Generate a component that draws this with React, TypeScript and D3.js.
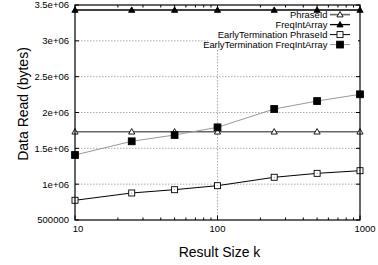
import React, { useRef, useEffect } from 'react';
import * as d3 from 'd3';

const sizes: number[] = [10, 25, 50, 100, 250, 500, 1000];
const phraseId: number[] = [1732000, 1732000, 1732000, 1732000, 1732000, 1732000, 1732000];
const freqIntArray: number[] = [3430000, 3430000, 3430000, 3430000, 3430000, 3430000, 3430000];
const earlyPhraseId: number[] = [775000, 877000, 923000, 979000, 1096000, 1151000, 1188000];
const earlyFreqIntArray: number[] = [1407000, 1598000, 1686000, 1793000, 2049000, 2160000, 2254000];
const yTicks: number[] = [500000, 1000000, 1500000, 2000000, 2500000, 3000000, 3500000];
const yTickLabels: string[] = ['500000', '1e+06', '1.5e+06', '2e+06', '2.5e+06', '3e+06', '3.5e+06'];
const xTicks: number[] = [10, 100, 1000];
const seriesNames: string[] = ['PhraseId', 'FreqIntArray', 'EarlyTermination PhraseId', 'EarlyTermination FreqIntArray'];

const FONT = '"Liberation Sans", Arial, Helvetica, sans-serif';

const App: React.FC = () => {
  const svgRef = useRef<SVGSVGElement | null>(null);

  useEffect(() => {
    if (!svgRef.current) return;
    const svg = d3.select(svgRef.current);
    svg.selectAll('*').remove();

    const width = 378;
    const height = 265;
    const margin = { top: 5, right: 18, bottom: 45, left: 75 };
    const x0 = margin.left, x1 = width - margin.right;
    const y0 = margin.top, y1 = height - margin.bottom;

    const x = d3.scaleLog().domain([10, 1000]).range([x0, x1]);
    const y = d3.scaleLinear().domain([500000, 3500000]).range([y1, y0]);

    // grid
    const grid = svg.append('g').attr('stroke', '#999').attr('stroke-width', 0.8).attr('stroke-dasharray', '1.5,1.5');
    yTicks.slice(1, -1).forEach(t => {
      grid.append('line').attr('x1', x0).attr('x2', x1).attr('y1', y(t)).attr('y2', y(t));
    });
    xTicks.slice(1, -1).forEach(t => {
      grid.append('line').attr('x1', x(t)).attr('x2', x(t)).attr('y1', y0).attr('y2', y1);
    });

    // ticks (inward, gnuplot style)
    const ticks = svg.append('g').attr('stroke', '#000').attr('stroke-width', 1);
    yTicks.forEach(t => {
      ticks.append('line').attr('x1', x0).attr('x2', x0 + 4).attr('y1', y(t)).attr('y2', y(t));
      ticks.append('line').attr('x1', x1).attr('x2', x1 - 4).attr('y1', y(t)).attr('y2', y(t));
    });
    const minor: number[] = [];
    [10, 100].forEach(d => { for (let i = 2; i <= 9; i++) minor.push(d * i); });
    minor.forEach(t => {
      ticks.append('line').attr('x1', x(t)).attr('x2', x(t)).attr('y1', y1).attr('y2', y1 - 2.5);
      ticks.append('line').attr('x1', x(t)).attr('x2', x(t)).attr('y1', y0).attr('y2', y0 + 2.5);
    });
    xTicks.forEach(t => {
      ticks.append('line').attr('x1', x(t)).attr('x2', x(t)).attr('y1', y1).attr('y2', y1 - 4.5);
      ticks.append('line').attr('x1', x(t)).attr('x2', x(t)).attr('y1', y0).attr('y2', y0 + 4.5);
    });

    // tick labels
    svg.append('g').selectAll('text').data(yTicks).enter().append('text')
      .attr('x', 69).attr('y', d => y(d) + 3.4)
      .attr('text-anchor', 'end').attr('font-family', FONT).attr('font-size', 9.5)
      .text((d, i) => yTickLabels[i]);
    const xOff = [3, 0, 5];
    svg.append('g').selectAll('text').data(xTicks).enter().append('text')
      .attr('x', (d, i) => x(d) + xOff[i]).attr('y', 232)
      .attr('text-anchor', 'middle').attr('font-family', FONT).attr('font-size', 9.5)
      .text(d => String(d));

    // axis titles
    svg.append('text').attr('x', 219.5).attr('y', 257)
      .attr('text-anchor', 'middle').attr('font-family', FONT).attr('font-size', 14)
      .text('Result Size k');
    svg.append('text').attr('transform', `translate(27.5,104) rotate(-90)`)
      .attr('text-anchor', 'middle').attr('font-family', FONT).attr('font-size', 14)
      .text('Data Read (bytes)');

    // legend background
    svg.append('rect').attr('x', 208).attr('y', 9).attr('width', 150).attr('height', 41).attr('fill', '#fff');

    const styles = [
      { data: phraseId, stroke: '#666', sw: 1.6, marker: 'tri', fill: '#fff' },
      { data: freqIntArray, stroke: '#000', sw: 1.3, marker: 'tri', fill: '#000' },
      { data: earlyPhraseId, stroke: '#000', sw: 1, marker: 'sq', fill: '#fff' },
      { data: earlyFreqIntArray, stroke: '#999', sw: 1, marker: 'sq', fill: '#000' },
    ];

    const line = d3.line<[number, number]>().x(d => d[0]).y(d => d[1]);

    const drawMarker = (g: d3.Selection<SVGGElement, unknown, null, undefined>, kind: string, cx: number, cy: number, fill: string) => {
      if (kind === 'tri') {
        const s = 3.1;
        g.append('path')
          .attr('d', `M${cx},${cy - s}L${cx + s},${cy + s * 0.75}L${cx - s},${cy + s * 0.75}Z`)
          .attr('fill', fill).attr('stroke', '#000').attr('stroke-width', 0.9);
      } else {
        const s = fill === '#000' ? 3.4 : 3;
        g.append('rect').attr('x', cx - s).attr('y', cy - s).attr('width', 2 * s).attr('height', 2 * s)
          .attr('fill', fill).attr('stroke', '#000').attr('stroke-width', 0.9);
        if (fill !== '#000') {
          g.append('circle').attr('cx', cx).attr('cy', cy).attr('r', 0.4).attr('fill', '#000');
        }
      }
    };

    styles.forEach(st => {
      const g = svg.append('g');
      const pts: [number, number][] = sizes.map((s, i) => [x(s), y(st.data[i])]);
      g.append('path').attr('d', line(pts)!).attr('fill', 'none').attr('stroke', st.stroke).attr('stroke-width', st.sw);
      pts.forEach(p => drawMarker(g, st.marker, p[0], p[1], st.fill));
    });

    // legend
    const lg = svg.append('g');
    seriesNames.forEach((name, i) => {
      const ly = 14.6 + i * 10;
      const st = styles[i];
      lg.append('text').attr('transform', `translate(327.5,${ly + 3.1}) scale(1.09,1)`)
        .attr('text-anchor', 'end')
        .attr('font-family', FONT).attr('font-size', 8.6).text(name);
      lg.append('line').attr('x1', 330).attr('x2', 350).attr('y1', ly).attr('y2', ly)
        .attr('stroke', st.stroke).attr('stroke-width', st.sw);
      drawMarker(lg, st.marker, 340, ly, st.fill);
    });

    // border
    svg.append('rect').attr('x', x0).attr('y', y0).attr('width', x1 - x0).attr('height', y1 - y0)
      .attr('fill', 'none').attr('stroke', '#000').attr('stroke-width', 1.2);
  }, []);

  return (
    <svg ref={svgRef} width={378} height={265} viewBox="0 0 378 265"
      style={{ position: 'absolute', left: 0, top: 0, background: '#fff' }} />
  );
};

export default App;
